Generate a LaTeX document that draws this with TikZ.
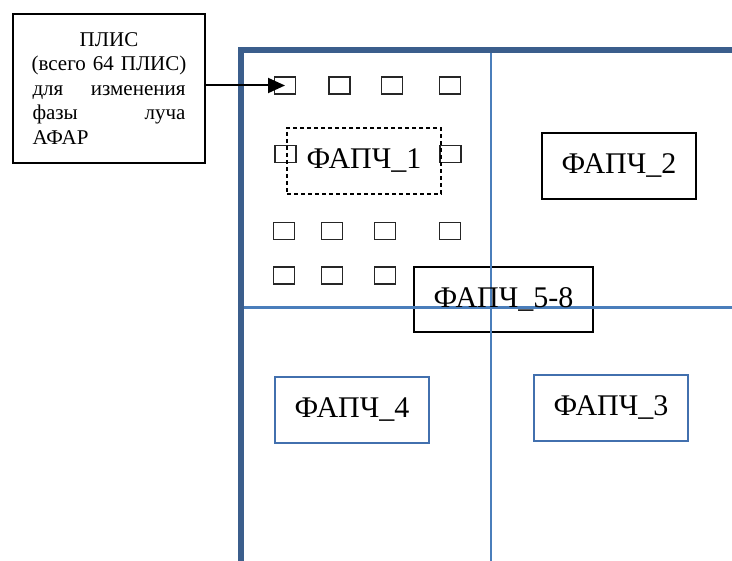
\documentclass[tikz,border=0pt]{standalone}
\usepackage{fontspec}
\setmainfont{Liberation Serif}
\usetikzlibrary{arrows.meta}
\definecolor{framec}{HTML}{3B5E8C}
\definecolor{linec}{HTML}{4A7EBB}
\definecolor{boxblue}{HTML}{4270AE}
\begin{document}
\begin{tikzpicture}[x=1pt,y=-1pt,
  sq/.style={draw=black!85, line width=1.3pt, minimum width=21pt, minimum height=17pt, inner sep=0pt},
  pll/.style={minimum width=154pt, minimum height=66pt, inner sep=0pt, font=\fontsize{30}{33}\selectfont},
  thin/.style={draw=linec, line width=2.4pt},
]
\useasboundingbox (0,0) rectangle (732,561);
% small squares
\foreach \x/\n in {285/a,339.5/b,392/c,450/d} \node[sq] (r1\n) at (\x,85.5) {};
\foreach \x/\n in {285.5/a,450.5/d} \node[sq] (r2\n) at (\x,154) {};
\foreach \x/\n in {284/a,332/b,385/c,450/d} \node[sq] (r3\n) at (\x,231) {};
\foreach \x/\n in {284/a,332/b,385/c} \node[sq] (r4\n) at (\x,275.5) {};
% PLL boxes
\node[pll, draw=black, dashed, dash pattern=on 4pt off 3pt, line width=1.2pt] (f1) at (364,161) {ФАПЧ\_1};
\node[pll, draw=black, line width=1.3pt] (f2) at (619,166) {ФАПЧ\_2};
\node[pll, draw=boxblue, line width=1.4pt] (f4) at (352,410) {ФАПЧ\_4};
\node[pll, draw=boxblue, line width=1.4pt] (f3) at (611,408) {ФАПЧ\_3};
\node[pll, draw=black, line width=1.3pt, fill=white, minimum width=179pt, minimum height=65pt] (f58) at (503.5,299.5) {};
% frame lines
\draw[thin] (491,50) -- (491,561);
\draw[thin] (241,307.5) -- (732,307.5);
\draw[draw=framec, line width=5.5pt, line join=miter] (241,561) -- (241,50) -- (732,50);
\node[font=\fontsize{30}{33}\selectfont, inner sep=0pt] at (f58) {ФАПЧ\_5-8};
% PLIS box
\node[draw=black, line width=2pt, minimum width=192pt, minimum height=149pt, text width=153pt, align=left, inner sep=0pt,
  font=\fontsize{21}{24.5}\selectfont] (plis) at (109,88.5)
  {\makebox[153pt][c]{ПЛИС}\\\makebox[153pt][c]{(всего 64 ПЛИС)}\\для\hfill изменения\\фазы\hfill луча\\АФАР};
\draw[line width=2pt, -{Triangle[length=17pt,width=15pt]}] (plis.east |- r1a.center) -- (r1a.center);
\end{tikzpicture}
\end{document}
